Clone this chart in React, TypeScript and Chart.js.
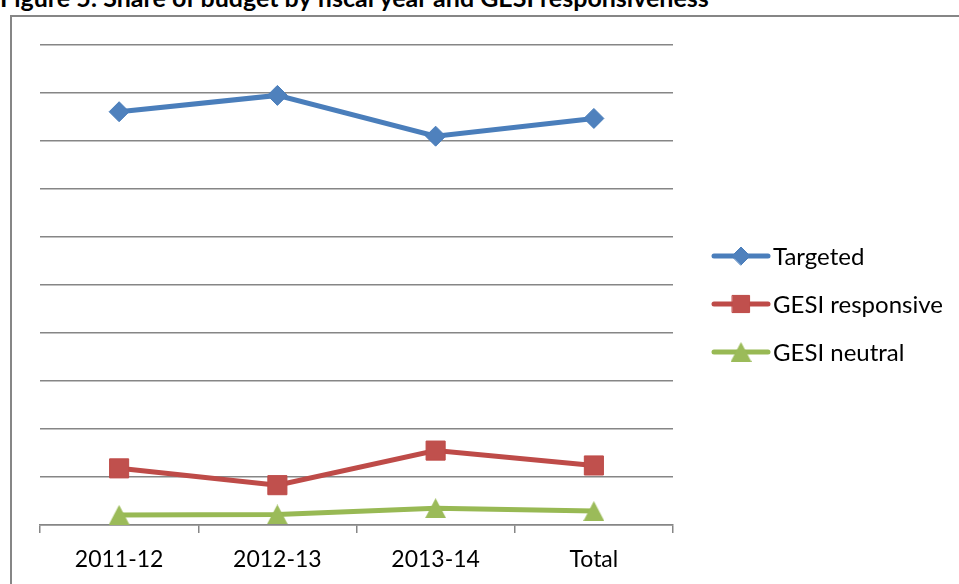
import React, { useEffect, useRef } from "react";
import { Chart, registerables } from "chart.js";
import { drawPoint } from "chart.js/helpers";

Chart.register(...registerables);

// Fiscal years on the category axis
const categories: string[] = ["2011-12", "2012-13", "2013-14", "Total"];

// Share of budget (%) by GESI responsiveness
const targeted: number[] = [86.1, 89.5, 81.0, 84.7];
const gesiResponsive: number[] = [11.8, 8.3, 15.5, 12.4];
const gesiNeutral: number[] = [2.1, 2.2, 3.5, 2.9];

const seriesNames: string[] = ["Targeted", "GESI responsive", "GESI neutral"];

// Value axis range (labels hidden, gridlines every step)
const yMin = 0;
const yMax = 100;
const yStep = 10;

const titleText = "Figure 5: Share of budget by fiscal year and GESI responsiveness";

const FONT = "Lato, 'Open Sans', sans-serif";
const GRID = "#868686";

// Triangle marker drawn on its own small canvas so its bounding box is centred on the point
function triangleMarker(fill: string, w: number, h: number): HTMLCanvasElement {
  const c = document.createElement("canvas");
  c.width = w;
  c.height = h;
  const ctx = c.getContext("2d")!;
  ctx.beginPath();
  ctx.moveTo(w / 2, 0);
  ctx.lineTo(w, h);
  ctx.lineTo(0, h);
  ctx.closePath();
  ctx.fillStyle = fill;
  ctx.fill();
  return c;
}

// Legend on the right: a short line with the series marker, then the series name
const sideLegend = {
  id: "sideLegend",
  afterDraw(chart: any) {
    const { ctx, chartArea } = chart;
    const x0 = chartArea.right + 41;
    const lineLen = 54;
    chart.data.datasets.forEach((ds: any, i: number) => {
      const y = chartArea.top + 211 + i * 48;
      ctx.save();
      ctx.strokeStyle = ds.borderColor;
      ctx.lineWidth = ds.borderWidth;
      ctx.lineCap = "round";
      ctx.beginPath();
      ctx.moveTo(x0, y);
      ctx.lineTo(x0 + lineLen, y);
      ctx.stroke();
      const cx = x0 + lineLen / 2;
      if (ds.pointStyle instanceof HTMLCanvasElement) {
        const img = ds.pointStyle as HTMLCanvasElement;
        ctx.drawImage(img, cx - img.width / 2, y - img.height / 2);
      } else {
        ctx.fillStyle = ds.pointBackgroundColor;
        ctx.strokeStyle = ds.pointBorderColor;
        ctx.lineWidth = ds.pointBorderWidth;
        drawPoint(ctx, { pointStyle: ds.pointStyle, rotation: 0, radius: ds.pointRadius * 0.9, borderWidth: ds.pointBorderWidth }, cx, y);
      }
      ctx.fillStyle = "#000";
      ctx.font = `24px ${FONT}`;
      ctx.textBaseline = "middle";
      ctx.textAlign = "left";
      ctx.fillText(ds.label, x0 + lineLen + 5, y + 1);
      ctx.restore();
    });
  },
};

export default function App() {
  const canvasRef = useRef<HTMLCanvasElement | null>(null);

  useEffect(() => {
    document.body.style.margin = "0";
    const canvas = canvasRef.current;
    if (!canvas) return;

    const tri = triangleMarker("#9BBB59", 21, 20);

    const chart = new Chart(canvas, {
      type: "line",
      data: {
        labels: categories,
        datasets: [
          {
            label: seriesNames[0],
            data: targeted,
            borderColor: "#4A7EBB",
            borderWidth: 5,
            pointStyle: "rectRot",
            pointRadius: 10,
            pointBackgroundColor: "#4F81BD",
            pointBorderColor: "#4A7EBB",
            pointBorderWidth: 1,
            clip: false,
          },
          {
            label: seriesNames[1],
            data: gesiResponsive,
            borderColor: "#BE4B48",
            borderWidth: 5,
            pointStyle: "rect",
            pointRadius: 13.5,
            pointBackgroundColor: "#C0504D",
            pointBorderColor: "#BE4B48",
            pointBorderWidth: 1,
            clip: false,
          },
          {
            label: seriesNames[2],
            data: gesiNeutral,
            borderColor: "#98B954",
            borderWidth: 5,
            pointStyle: tri,
            pointRadius: 10,
            pointBackgroundColor: "#9BBB59",
            pointBorderColor: "#98B954",
            pointBorderWidth: 0,
            clip: false,
          },
        ] as any,
      },
      options: {
        responsive: false,
        animation: false,
        devicePixelRatio: 1,
        layout: { padding: { left: 40, top: 45, right: 286, bottom: 0 } },
        plugins: {
          legend: { display: false },
          tooltip: { enabled: false },
          title: { display: false },
        },
        elements: { line: { tension: 0 } },
        scales: {
          x: {
            type: "category",
            offset: true,
            grid: {
              display: true,
              drawOnChartArea: false,
              drawTicks: true,
              tickLength: 8,
              offset: true,
              color: GRID,
              lineWidth: 1.5,
            },
            border: { display: true, color: GRID, width: 1.5 },
            ticks: {
              color: "#000",
              font: { family: FONT, size: 23 },
              padding: 13,
              maxRotation: 0,
            },
            afterFit: (scale: any) => {
              scale.height = 59;
            },
          },
          y: {
            min: yMin,
            max: yMax,
            ticks: { display: false, stepSize: yStep },
            grid: { color: GRID, lineWidth: 1.5, drawTicks: false },
            border: { display: false },
            afterFit: (scale: any) => {
              scale.width = 0;
            },
          },
        },
      },
      plugins: [sideLegend],
    });

    return () => chart.destroy();
  }, []);

  return (
    <div style={{ position: "relative", width: 959, height: 584, overflow: "hidden", background: "#fff" }}>
      <div
        style={{
          position: "absolute",
          left: 10,
          top: 15,
          width: 1000,
          height: 700,
          border: `2px solid ${GRID}`,
        }}
      />
      <div
        style={{
          position: "absolute",
          left: 0,
          top: -15,
          fontFamily: FONT,
          fontWeight: 700,
          fontSize: 25,
          lineHeight: "25px",
          whiteSpace: "nowrap",
          color: "#000",
        }}
      >
        {titleText}
      </div>
      <canvas
        ref={canvasRef}
        width={959}
        height={584}
        style={{ position: "absolute", left: 0, top: 0, width: 959, height: 584 }}
      />
    </div>
  );
}
